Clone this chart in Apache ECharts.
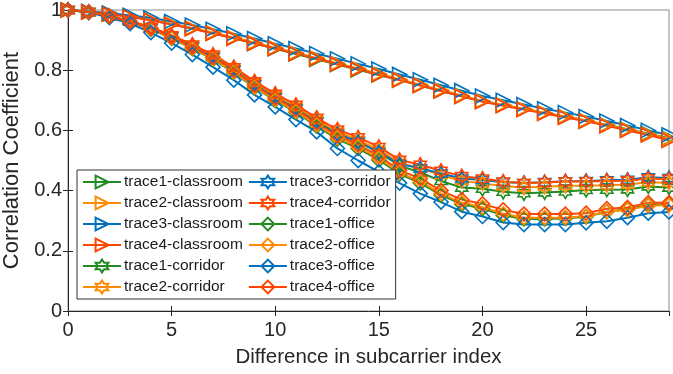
<!DOCTYPE html>
<html>
<head>
<meta charset="utf-8">
<script src="https://cdn.jsdelivr.net/npm/echarts@6/dist/echarts.min.js"></script>
<style>
  html, body { margin: 0; padding: 0; background: #fff; }
  #chart { width: 673px; height: 374px; }
</style>
</head>
<body>
<div id="chart"></div>
<script>
// subcarrier index difference 0..29
var xIdx = [0,1,2,3,4,5,6,7,8,9,10,11,12,13,14,15,16,17,18,19,20,21,22,23,24,25,26,27,28,29];

var trace1Classroom = [1,0.994,0.987,0.978,0.967,0.953,0.939,0.923,0.906,0.889,0.871,0.854,0.836,0.819,0.801,0.784,0.767,0.749,0.731,0.713,0.697,0.684,0.671,0.658,0.646,0.633,0.619,0.604,0.59,0.574];
var trace2Classroom = [1,0.994,0.987,0.978,0.968,0.954,0.94,0.925,0.909,0.892,0.875,0.858,0.841,0.823,0.806,0.788,0.77,0.752,0.734,0.716,0.698,0.685,0.672,0.659,0.646,0.633,0.618,0.603,0.588,0.572];
var trace3Classroom = [1,0.995,0.99,0.982,0.974,0.962,0.95,0.936,0.921,0.905,0.888,0.872,0.855,0.838,0.821,0.804,0.786,0.768,0.75,0.732,0.714,0.70,0.686,0.672,0.659,0.646,0.631,0.616,0.6,0.585];
var trace4Classroom = [1,0.993,0.986,0.977,0.966,0.952,0.938,0.922,0.906,0.889,0.872,0.855,0.838,0.82,0.803,0.785,0.767,0.749,0.731,0.713,0.695,0.682,0.669,0.656,0.643,0.63,0.615,0.6,0.585,0.567];

var trace1Corridor = [1,0.993,0.979,0.962,0.941,0.912,0.88,0.845,0.802,0.754,0.712,0.674,0.63,0.59,0.562,0.527,0.483,0.46,0.432,0.41,0.406,0.396,0.391,0.394,0.397,0.402,0.403,0.404,0.414,0.41];
var trace2Corridor = [1,0.993,0.98,0.963,0.942,0.914,0.882,0.848,0.805,0.758,0.716,0.678,0.635,0.595,0.568,0.535,0.492,0.474,0.452,0.432,0.424,0.415,0.41,0.413,0.416,0.416,0.418,0.42,0.428,0.426];
var trace3Corridor = [1,0.993,0.979,0.962,0.94,0.912,0.878,0.844,0.8,0.752,0.71,0.672,0.628,0.588,0.562,0.528,0.488,0.474,0.457,0.44,0.435,0.428,0.425,0.428,0.431,0.432,0.434,0.436,0.444,0.442];
var trace4Corridor = [1,0.993,0.98,0.964,0.943,0.916,0.885,0.852,0.81,0.763,0.722,0.685,0.642,0.603,0.577,0.545,0.502,0.486,0.466,0.448,0.44,0.43,0.425,0.427,0.43,0.43,0.432,0.433,0.44,0.438];

var trace1Office = [1,0.993,0.978,0.959,0.936,0.906,0.872,0.836,0.792,0.742,0.7,0.66,0.614,0.571,0.54,0.502,0.455,0.425,0.385,0.355,0.34,0.318,0.306,0.306,0.308,0.313,0.33,0.338,0.352,0.355];
var trace2Office = [1,0.993,0.978,0.96,0.937,0.907,0.873,0.838,0.794,0.744,0.702,0.663,0.618,0.575,0.545,0.507,0.46,0.43,0.39,0.36,0.345,0.323,0.31,0.31,0.311,0.315,0.33,0.336,0.35,0.352];
var trace3Office = [1,0.992,0.975,0.955,0.925,0.89,0.852,0.81,0.767,0.718,0.678,0.636,0.595,0.54,0.5,0.462,0.425,0.39,0.362,0.33,0.314,0.294,0.287,0.287,0.287,0.293,0.298,0.31,0.325,0.329];
var trace4Office = [1,0.993,0.979,0.961,0.939,0.91,0.877,0.843,0.8,0.75,0.708,0.67,0.625,0.583,0.553,0.515,0.468,0.44,0.4,0.37,0.356,0.336,0.322,0.322,0.322,0.325,0.34,0.344,0.36,0.36];

var traceColors = ['#228b22', '#ff8c00', '#0072bd', '#ff4500'];
var hexagram = 'path://M0,-100L28.9,-50L86.6,-50L57.7,0L86.6,50L28.9,50L0,100L-28.9,50L-86.6,50L-57.7,0L-86.6,-50L-28.9,-50Z';

var seriesDefs = [
  { name: 'trace1-classroom', data: trace1Classroom, c: 0, sym: 'triangle', rot: -90 },
  { name: 'trace2-classroom', data: trace2Classroom, c: 1, sym: 'triangle', rot: -90 },
  { name: 'trace3-classroom', data: trace3Classroom, c: 2, sym: 'triangle', rot: -90 },
  { name: 'trace4-classroom', data: trace4Classroom, c: 3, sym: 'triangle', rot: -90 },
  { name: 'trace1-corridor', data: trace1Corridor, c: 0, sym: hexagram, rot: 0 },
  { name: 'trace2-corridor', data: trace2Corridor, c: 1, sym: hexagram, rot: 0 },
  { name: 'trace3-corridor', data: trace3Corridor, c: 2, sym: hexagram, rot: 0 },
  { name: 'trace4-corridor', data: trace4Corridor, c: 3, sym: hexagram, rot: 0 },
  { name: 'trace1-office', data: trace1Office, c: 0, sym: 'diamond', rot: 0 },
  { name: 'trace2-office', data: trace2Office, c: 1, sym: 'diamond', rot: 0 },
  { name: 'trace3-office', data: trace3Office, c: 2, sym: 'diamond', rot: 0 },
  { name: 'trace4-office', data: trace4Office, c: 3, sym: 'diamond', rot: 0 }
];

var font = 'Liberation Sans';
var axisCol = '#262626';

var chart = echarts.init(document.getElementById('chart'));

chart.setOption({
  animation: false,
  backgroundColor: '#fff',
  textStyle: { fontFamily: font },
  grid: {
    left: 68, right: 4, top: 10, bottom: 63,
    outerBoundsMode: 'none', containLabel: false,
    show: true, borderColor: '#8c8c8c', borderWidth: 1
  },
  legend: {
    orient: 'vertical',
    left: 77,
    top: 170,
    height: 138,
    padding: [4, 5, 4, 5],
    itemGap: 5,
    itemWidth: 38,
    itemHeight: 16,
    backgroundColor: '#fff',
    borderColor: '#333',
    borderWidth: 1,
    textStyle: { fontSize: 15.5, color: '#1a1a1a', padding: [0, 0, 0, -2] },
    data: seriesDefs.map(function (s) { return s.name; })
  },
  xAxis: [{
    type: 'value',
    min: 0,
    max: 29,
    interval: 5,
    name: 'Difference in subcarrier index',
    nameLocation: 'middle',
    nameGap: 36,
    nameTextStyle: { fontSize: 20.5, color: '#262626' },
    axisLine: { onZero: false, lineStyle: { color: axisCol } },
    axisTick: { inside: true, length: 5, lineStyle: { color: axisCol } },
    axisLabel: { fontSize: 20, color: '#262626', margin: 9, showMaxLabel: false },
    splitLine: { show: false }
  }, {
    type: 'value',
    position: 'top',
    min: 0,
    max: 29,
    interval: 5,
    axisLine: { show: false },
    axisTick: { inside: true, length: 5, lineStyle: { color: axisCol } },
    axisLabel: { show: false },
    splitLine: { show: false }
  }],
  yAxis: [{
    type: 'value',
    min: 0,
    max: 1,
    interval: 0.2,
    name: 'Correlation Coefficient',
    nameLocation: 'middle',
    nameGap: 34,
    nameTextStyle: { fontSize: 22, color: '#262626' },
    axisLine: { show: true, onZero: false, lineStyle: { color: axisCol } },
    axisTick: { show: true, inside: true, length: 5, lineStyle: { color: axisCol } },
    axisLabel: { fontSize: 20, color: '#262626', margin: 6 },
    splitLine: { show: false }
  }, {
    type: 'value',
    position: 'right',
    min: 0,
    max: 1,
    interval: 0.2,
    axisLine: { show: false },
    axisTick: { show: true, inside: true, length: 5, lineStyle: { color: axisCol } },
    axisLabel: { show: false },
    splitLine: { show: false }
  }],
  series: seriesDefs.map(function (s) {
    var col = traceColors[s.c];
    return {
      name: s.name,
      type: 'line',
      data: xIdx.map(function (x, i) { return [x, s.data[i]]; }),
      color: col,
      symbol: s.sym,
      symbolSize: 14,
      symbolRotate: s.rot,
      symbolKeepAspect: true,
      showAllSymbol: true,
      lineStyle: { color: col, width: 2 },
      itemStyle: { color: 'rgba(255,255,255,0)', borderColor: col, borderWidth: 1.6 },
      emphasis: { disabled: true }
    };
  })
});
</script>
</body>
</html>
